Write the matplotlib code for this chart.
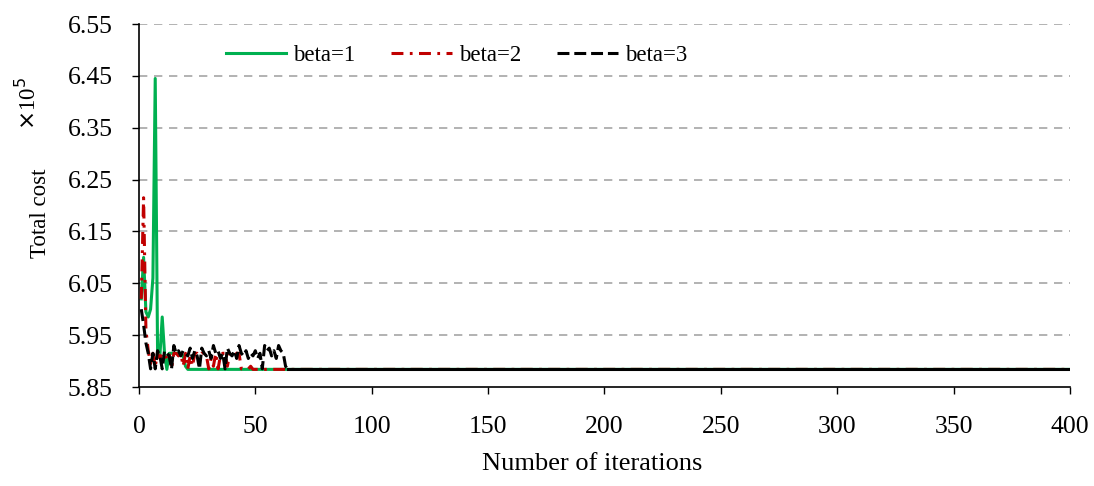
import matplotlib
matplotlib.use("Agg")
import matplotlib.pyplot as plt

iters = list(range(1, 65))
beta1 = [6.02, 6.10, 5.995, 5.985, 6.00, 6.06, 6.445, 5.92, 5.91, 5.985,
         5.915, 5.884, 5.915, 5.915, 5.915, 5.915, 5.915, 5.915, 5.91, 5.89] + [5.884] * 44
beta2 = [6.02, 6.215, 5.96, 5.92, 5.895, 5.915, 5.89, 5.915, 5.905, 5.915,
         5.915, 5.905, 5.915, 5.885, 5.915, 5.915, 5.91, 5.915, 5.89, 5.915,
         5.885, 5.91, 5.89, 5.915, 5.915, 5.91, 5.915, 5.915, 5.91, 5.885,
         5.905, 5.89, 5.915, 5.885, 5.91, 5.915, 5.915, 5.89, 5.915, 5.915,
         5.91, 5.915, 5.915, 5.885, 5.885, 5.885, 5.885, 5.89, 5.884] + [5.884] * 15
beta3 = [6.00, 5.97, 5.935, 5.915, 5.885, 5.915, 5.885, 5.92, 5.91, 5.885,
         5.92, 5.915, 5.91, 5.885, 5.93, 5.915, 5.92, 5.91, 5.92, 5.915,
         5.91, 5.925, 5.905, 5.92, 5.91, 5.885, 5.925, 5.915, 5.91, 5.92,
         5.905, 5.93, 5.915, 5.92, 5.905, 5.915, 5.885, 5.925, 5.915, 5.91,
         5.92, 5.905, 5.93, 5.915, 5.91, 5.92, 5.905, 5.915, 5.91, 5.92,
         5.905, 5.915, 5.885, 5.93, 5.92, 5.925, 5.91, 5.92, 5.905, 5.93,
         5.92, 5.915, 5.89, 5.884]
final_iter = 400
final_value = 5.884

yticks = [5.85, 5.95, 6.05, 6.15, 6.25, 6.35, 6.45, 6.55]
xticks = [0, 50, 100, 150, 200, 250, 300, 350, 400]

plt.rcParams['font.family'] = ['Liberation Serif', 'DejaVu Serif']

fig = plt.figure(figsize=(10.94, 4.86), dpi=100)
ax = fig.add_axes([0.127, 0.2037, 0.851, 0.7469])

for y in yticks[1:]:
    ax.axhline(y, color='#a6a6a6', lw=1.2, ls=(0, (5, 4)), zorder=0)

ax.plot(iters + [final_iter], beta1 + [final_value], color='#00b050', lw=2.2, label='beta=1', zorder=2)
ax.plot(iters + [final_iter], beta2 + [final_value], color='#c00000', lw=2.2,
        ls=(0, (3.9, 2.1, 0.9, 2.1)), label='beta=2', zorder=3)
ax.plot(iters, beta3, color='black', lw=2.2, ls=(0, (3.9, 1.6)), label='beta=3', zorder=4)
ax.plot([iters[-1], final_iter], [beta3[-1], final_value], color='black', lw=2.2, zorder=4)

ax.set_xlim(0, 400)
ax.set_ylim(5.85, 6.55)
ax.set_xticks(xticks)
ax.set_yticks(yticks)
ax.set_yticklabels([f"{v:.2f}" for v in yticks])
ax.tick_params(axis='both', direction='out', length=5, width=1, labelsize=18.5, colors='black')
ax.tick_params(axis='x', pad=16)
ax.tick_params(axis='y', pad=14)
for s in ['top', 'right']:
    ax.spines[s].set_visible(False)
for s in ['left', 'bottom']:
    ax.spines[s].set_linewidth(1.2)

fig.text(592 / 1094, 1 - 464 / 486, 'Number of iterations', fontsize=19, ha='center', va='center')
fig.text(40 / 1094, 1 - 213 / 486, 'Total cost', fontsize=16.5, rotation=90, ha='center', va='center')
fig.text(28 / 1094, 1 - 103 / 486, r'$\times$10$^5$', rotation=90, fontsize=16.5, ha='center', va='center')

leg = ax.legend(loc='center left', bbox_to_anchor=(0.071, 0.914), ncol=3, frameon=False,
                fontsize=16.5, handlelength=2.65, columnspacing=1.57, handletextpad=0.3)

fig.savefig('out.png', dpi=100)
